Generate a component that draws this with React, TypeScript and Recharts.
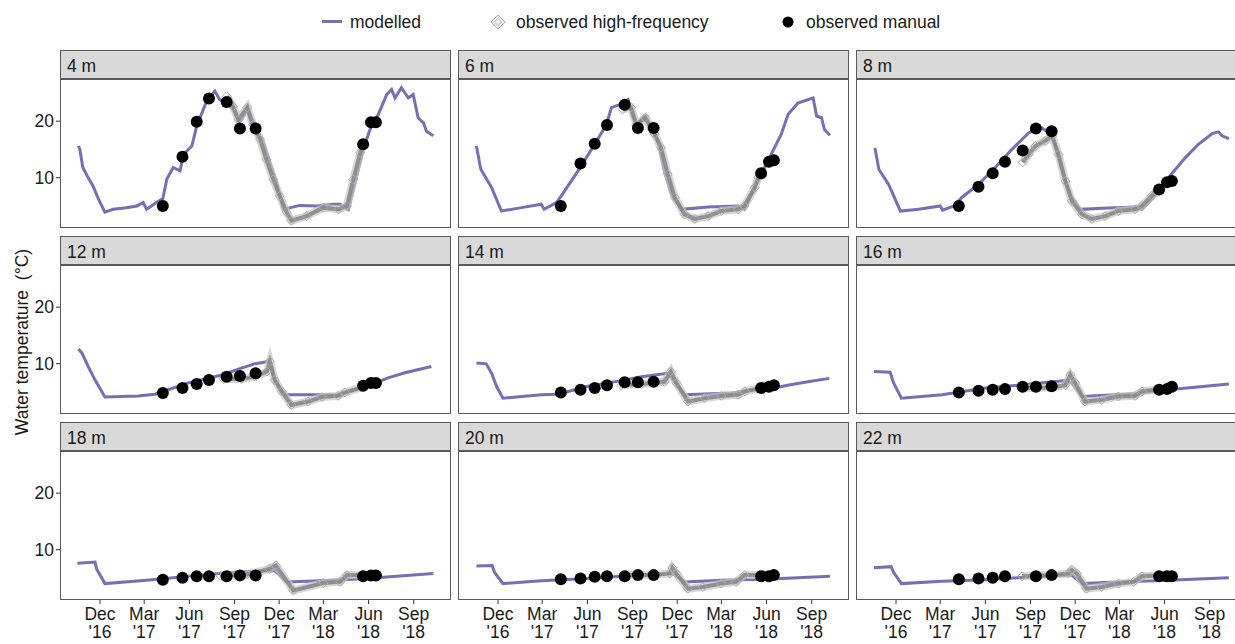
import React from "react";
import { ComposedChart, Line, XAxis, YAxis } from "recharts";

// x = days since 1 Dec 2016, y = water temperature (°C)
const tickDays = [0, 90, 182, 274, 365, 455, 547, 639];
const tickMonths = ["Dec", "Mar", "Jun", "Sep", "Dec", "Mar", "Jun", "Sep"];
const tickYears = ["'16", "'17", "'17", "'17", "'17", "'18", "'18", "'18"];

const depths = ["4 m", "6 m", "8 m", "12 m", "14 m", "16 m", "18 m", "20 m", "22 m"];

const mod4m: [number, number][] = [[-44,15.6],[-41,15.0],[-35,11.8],[-26,10.3],[-14,8.5],[-3,6.2],[10,3.9],[27,4.4],[54,4.7],[75,5.0],[88,5.6],[95,4.4],[115,5.6],[128,6.3],[132,8.0],[136,9.7],[149,11.8],[163,11.2],[170,14.1],[187,15.6],[197,19.1],[217,23.5],[234,25.3],[244,23.8],[265,23.2],[282,20.0],[289,20.3],[299,22.1],[309,19.4],[319,18.5],[333,16.2],[346,12.7],[360,9.1],[373,4.4],[407,5.1],[441,5.0],[475,5.3],[489,5.3],[506,4.4],[513,6.8],[523,10.3],[536,15.0],[550,18.5],[567,21.2],[584,24.7],[594,25.6],[601,24.1],[614,25.9],[628,24.1],[638,24.7],[648,20.6],[659,19.7],[665,18.2],[679,17.4]];
const mod6m: [number, number][] = [[-44,15.6],[-35,11.5],[-13,8.25],[7,4.1],[48,4.7],[88,5.3],[94,4.4],[119,5.6],[129,6.8],[163,11.2],[197,15.9],[221,19.4],[231,22.4],[248,22.9],[265,23.8],[275,20.6],[282,19.4],[299,20.9],[312,18.8],[326,16.5],[339,11.2],[353,7.1],[374,4.4],[428,4.8],[489,5.0],[502,4.4],[523,8.25],[543,11.8],[577,17.7],[591,21.2],[611,23.2],[642,24.1],[649,20.9],[659,20.6],[665,18.5],[676,17.5]];
const mod8m: [number, number][] = [[-43,15.3],[-35,11.5],[-15,8.8],[9,4.1],[46,4.4],[90,5.0],[95,4.25],[118,5.0],[134,6.5],[168,8.8],[202,11.8],[236,15.0],[270,17.9],[284,18.5],[297,18.8],[304,18.4],[318,17.4],[331,13.5],[345,9.4],[358,6.5],[375,4.4],[420,4.6],[487,4.8],[501,4.4],[521,6.2],[555,10.0],[589,13.5],[616,15.9],[644,17.8],[657,18.1],[664,17.4],[678,16.9]];
const mod12m: [number, number][] = [[-44,12.6],[-37,11.9],[-24,9.5],[-10,7.1],[10,4.1],[78,4.3],[112,4.6],[180,6.6],[248,8.0],[288,9.2],[316,10.0],[343,10.4],[346,9.5],[356,7.1],[377,4.5],[485,4.5],[519,5.4],[553,6.3],[587,7.5],[621,8.4],[675,9.5]];
const mod14m: [number, number][] = [[-44,10.1],[-24,9.97],[-13,8.3],[-3,6.0],[10,3.9],[88,4.5],[122,4.6],[183,6.0],[251,7.0],[292,7.7],[346,8.3],[360,6.8],[380,4.5],[475,4.8],[523,5.4],[563,5.7],[590,6.2],[631,6.8],[675,7.4]];
const mod16m: [number, number][] = [[-45,8.6],[-12,8.5],[-5,6.6],[11,3.9],[94,4.5],[182,5.7],[250,6.2],[345,7.0],[358,6.6],[379,4.2],[487,4.7],[555,5.4],[678,6.4]];
const mod18m: [number, number][] = [[-46,7.6],[-10,7.8],[-7,6.6],[10,4.0],[95,4.6],[204,5.5],[272,6.0],[356,6.3],[380,4.3],[475,4.6],[543,4.9],[679,5.8]];
const mod20m: [number, number][] = [[-44,7.1],[-12,7.2],[-7,6.0],[10,4.0],[88,4.5],[183,4.9],[251,5.3],[357,5.8],[380,4.3],[455,4.6],[557,4.8],[676,5.3]];
const mod22m: [number, number][] = [[-45,6.8],[-10,7.0],[-5,6.0],[11,4.0],[94,4.4],[182,4.7],[250,5.05],[358,5.5],[379,4.0],[453,4.3],[555,4.6],[678,5.05]];

const hf4m: [number, number][] = [[258,24.4],[271,22.6],[282,20.3],[300,22.4],[312,19.4],[326,16.8],[339,13.2],[353,9.7],[366,6.8],[380,3.9],[390,2.4],[421,3.2],[455,4.7],[486,4.4],[503,5.0],[516,9.7],[530,14.4],[536,15.6]];
const hf6m: [number, number][] = [[254,22.1],[271,22.4],[282,19.4],[300,20.6],[319,17.7],[332,15.3],[346,10.6],[360,6.5],[380,3.5],[401,2.7],[428,3.2],[455,4.1],[489,4.4],[502,5.0],[523,8.25],[530,10.0]];
const hf8m: [number, number][] = [[258,12.7],[270,14.1],[284,15.6],[304,16.5],[318,17.4],[331,14.1],[345,9.4],[358,5.9],[379,3.5],[399,2.7],[426,3.2],[453,4.1],[487,4.4],[501,5.0],[521,6.8],[531,7.6]];
const hf12m: [number, number][] = [[252,7.3],[288,7.3],[316,7.7],[340,8.6],[346,10.4],[356,7.1],[370,5.1],[390,2.7],[424,3.3],[452,4.1],[485,4.3],[499,4.9],[533,5.8]];
const hf14m: [number, number][] = [[251,6.2],[292,6.4],[339,6.8],[352,8.6],[363,6.6],[387,3.3],[421,3.9],[455,4.3],[489,4.5],[503,5.1],[536,5.7]];
const hf16m: [number, number][] = [[257,5.7],[318,5.8],[345,6.2],[355,8.0],[365,6.6],[385,3.3],[419,3.6],[453,4.2],[487,4.3],[501,5.1],[535,5.5]];
const hf18m: [number, number][] = [[245,5.4],[300,5.6],[345,6.6],[358,7.2],[394,2.8],[455,4.1],[489,4.3],[503,5.5],[536,5.5]];
const hf20m: [number, number][] = [[262,5.5],[316,5.5],[350,5.8],[355,6.8],[363,5.8],[387,3.1],[417,3.4],[455,4.0],[485,4.3],[502,5.5],[543,5.5]];
const hf22m: [number, number][] = [[257,5.3],[318,5.5],[351,5.8],[358,6.4],[368,5.8],[388,3.1],[419,3.4],[453,4.0],[484,4.3],[501,5.3],[549,5.5]];

const manualDays = [128, 168, 197, 222, 258, 285, 317, 536, 552, 562];
const man4m = [5.0, 13.7, 19.9, 24.0, 23.4, 18.7, 18.7, 15.9, 19.8, 19.8];
const man6m = [5.0, 12.5, 16.0, 19.3, 22.9, 18.8, 18.8, 10.8, 12.8, 13.1];
const man8m = [5.0, 8.4, 10.8, 12.8, 14.8, 18.7, 18.2, 7.9, 9.2, 9.4];
const man12m = [4.8, 5.7, 6.4, 7.1, 7.7, 7.8, 8.3, 6.1, 6.6, 6.6];
const man14m = [4.9, 5.4, 5.7, 6.2, 6.7, 6.7, 6.8, 5.7, 5.9, 6.2];
const man16m = [4.9, 5.2, 5.4, 5.5, 5.9, 5.9, 6.0, 5.4, 5.5, 5.9];
const man18m = [4.7, 5.05, 5.3, 5.3, 5.3, 5.45, 5.45, 5.3, 5.45, 5.45];
const man20m = [4.75, 4.9, 5.2, 5.3, 5.3, 5.5, 5.5, 5.3, 5.3, 5.5];
const man22m = [4.75, 4.9, 5.05, 5.3, null, 5.3, 5.5, 5.3, 5.3, 5.3];

const modelled = [mod4m, mod6m, mod8m, mod12m, mod14m, mod16m, mod18m, mod20m, mod22m];
const highFreq = [hf4m, hf6m, hf8m, hf12m, hf14m, hf16m, hf18m, hf20m, hf22m];
const manual = [man4m, man6m, man8m, man12m, man14m, man16m, man18m, man20m, man22m];

const PURPLE = "#7570b3";
const BORDER = "#5a5a5a";
const FONT = "'Liberation Sans', Arial, sans-serif";
const FS = 17.5;

const colLeft = [60, 458, 856];
const rowTop = [79, 265, 451];
const PW = 391;
const PH = 149;
const STRIP = 29;
const YW = 60;
const XH = 44;

const toRows = (pts: [number, number][]) => pts.map(([d, v]) => ({ d, v }));

const Diamond = (props: any) => {
  const { cx, cy } = props;
  if (cx == null || cy == null) return null;
  const s = 4.5;
  return (
    <path
      key={props.index}
      d={`M${cx},${cy - s}L${cx + s},${cy}L${cx},${cy + s}L${cx - s},${cy}Z`}
      fill="none"
      stroke="#ababab"
      strokeWidth={1}
    />
  );
};

const XTick = (props: any) => {
  const { x, y, payload } = props;
  const i = tickDays.indexOf(payload.value);
  return (
    <text x={x} y={y} textAnchor="middle" fill="#1a1a1a" fontSize={FS} fontFamily={FONT}>
      <tspan x={x} dy={14}>{tickMonths[i]}</tspan>
      <tspan x={x} dy={18}>{tickYears[i]}</tspan>
    </text>
  );
};

function Panel({ idx }: { idx: number }) {
  const col = idx % 3;
  const row = Math.floor(idx / 3);
  const showY = col === 0;
  const showX = row === 2;
  const left = colLeft[col];
  const top = rowTop[row];
  const chartW = PW + (showY ? YW : 0);
  const chartH = PH + (showX ? XH : 0);
  const man = manualDays
    .map((d, i) => ({ d, v: manual[idx][i] }))
    .filter((p) => p.v != null);
  const hf = toRows(highFreq[idx]);

  return (
    <>
      <div
        style={{
          position: "absolute",
          left,
          top: top - STRIP,
          width: PW,
          height: STRIP,
          boxSizing: "border-box",
          background: "#d9d9d9",
          border: `1px solid ${BORDER}`,
          fontSize: FS,
          lineHeight: `${STRIP + 1}px`,
          paddingLeft: 6,
          color: "#1a1a1a",
        }}
      >
        {depths[idx]}
      </div>
      <div style={{ position: "absolute", left: left - (showY ? YW : 0), top }}>
        <ComposedChart width={chartW} height={chartH} margin={{ top: 0, right: 0, bottom: 0, left: 0 }}>
          <XAxis
            type="number"
            dataKey="d"
            domain={[-81.5, 715]}
            ticks={tickDays}
            allowDataOverflow
            hide={!showX}
            height={XH}
            axisLine={false}
            tickSize={4}
            tickLine={{ stroke: "#333" }}
            tick={<XTick />}
            interval={0}
          />
          <YAxis
            type="number"
            dataKey="v"
            domain={[1.1, 27.45]}
            ticks={[10, 20]}
            allowDataOverflow
            hide={!showY}
            width={YW}
            axisLine={false}
            tickSize={4}
            tickLine={{ stroke: "#333" }}
            tick={{ fontSize: FS, fill: "#1a1a1a", fontFamily: FONT }}
          />
          <Line
            data={toRows(modelled[idx])}
            dataKey="v"
            type="linear"
            stroke={PURPLE}
            strokeWidth={3}
            dot={false}
            isAnimationActive={false}
          />
          <Line
            data={hf}
            dataKey="v"
            type="linear"
            stroke="#c6c6c6"
            strokeOpacity={0.7}
            strokeWidth={8}
            dot={false}
            isAnimationActive={false}
          />
          <Line
            data={hf}
            dataKey="v"
            type="linear"
            stroke="#848484"
            strokeOpacity={0.85}
            strokeWidth={4}
            dot={<Diamond />}
            isAnimationActive={false}
          />
          <Line
            data={man}
            dataKey="v"
            type="linear"
            stroke="none"
            dot={{ r: 6, fill: "#000", stroke: "#000", strokeWidth: 0 }}
            isAnimationActive={false}
          />
        </ComposedChart>
      </div>
      <div
        style={{
          position: "absolute",
          left,
          top,
          width: PW,
          height: PH,
          boxSizing: "border-box",
          border: `1px solid ${BORDER}`,
          pointerEvents: "none",
        }}
      />
    </>
  );
}

export default function App() {
  return (
    <div
      style={{
        position: "fixed",
        left: 0,
        top: 0,
        width: 1235,
        height: 644,
        overflow: "hidden",
        background: "#fff",
        fontFamily: FONT,
      }}
    >
      {/* legend */}
      <div style={{ position: "absolute", left: 322, top: 20, width: 20, height: 3, background: PURPLE }} />
      <div style={{ position: "absolute", left: 350, top: 12, fontSize: FS, color: "#1a1a1a" }}>modelled</div>
      <svg style={{ position: "absolute", left: 490, top: 14 }} width={16} height={16}>
        <path d="M8,1L15,8L8,15L1,8Z" fill="#eee" stroke="#aaa" strokeWidth={1} />
        <path d="M8,4.5L11.5,8L8,11.5L4.5,8Z" fill="none" stroke="#bbb" strokeWidth={1} />
      </svg>
      <div style={{ position: "absolute", left: 516, top: 12, fontSize: FS, color: "#1a1a1a" }}>observed high-frequency</div>
      <svg style={{ position: "absolute", left: 781, top: 15 }} width={14} height={14}>
        <circle cx={7} cy={7} r={5.5} fill="#000" />
      </svg>
      <div style={{ position: "absolute", left: 806, top: 12, fontSize: FS, color: "#1a1a1a" }}>observed manual</div>

      {depths.map((_, i) => (
        <Panel key={i} idx={i} />
      ))}

      <div
        style={{
          position: "absolute",
          left: 22,
          top: 342,
          transform: "translate(-50%, -50%) rotate(-90deg)",
          whiteSpace: "pre",
          fontSize: FS,
          color: "#1a1a1a",
        }}
      >
        {"Water temperature  (°C)"}
      </div>
    </div>
  );
}
